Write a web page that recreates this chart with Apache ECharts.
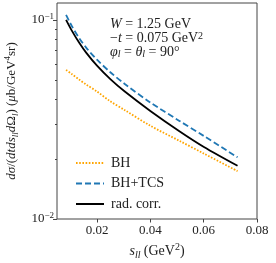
<!DOCTYPE html>
<html><head><meta charset="utf-8">
<script src="https://cdn.jsdelivr.net/npm/echarts@6/dist/echarts.min.js"></script>
<style>html,body{margin:0;padding:0;background:#fff}#c{width:276px;height:263px}</style>
</head><body><div id="c"></div>
<script>
const sll     = [0.0084, 0.0105, 0.0134, 0.016, 0.02, 0.025, 0.0303, 0.04, 0.0509, 0.0601, 0.0727];
const bh      = [0.0561, 0.0535, 0.0501, 0.0473, 0.0437, 0.0390, 0.0353, 0.0294, 0.0247, 0.0213, 0.0174];
const bhTcs   = [0.1059, 0.0934, 0.0807, 0.0724, 0.0631, 0.0546, 0.0478, 0.0385, 0.0311, 0.0261, 0.0204];
const radCorr = [0.1000, 0.0886, 0.0765, 0.0683, 0.0589, 0.0504, 0.0438, 0.0349, 0.0276, 0.0230, 0.0185];
const seriesNames = ['BH', 'BH+TCS', 'rad. corr.'];
const xTicks = [0.02, 0.04, 0.06, 0.08];
const yMajorExp = [-2, -1];
const yMinorVals = [0.02, 0.03, 0.04, 0.05, 0.06, 0.07, 0.08, 0.09];

const FONT = 'Liberation Serif';
const TXT = '#222';
const yMin = 0.01, yMax = 0.1216;
const pair = a => sll.map((s, i) => [s, a[i]]);

const richAxis = {
  i:   {fontFamily: FONT, fontStyle: 'italic', fontSize: 14, color: TXT, lineHeight: 18},
  r:   {fontFamily: FONT, fontSize: 14, color: TXT, lineHeight: 18},
  sub: {fontFamily: FONT, fontStyle: 'italic', fontSize: 10, color: TXT, verticalAlign: 'bottom', lineHeight: 10},
  sup: {fontFamily: FONT, fontSize: 10, color: TXT, verticalAlign: 'top', lineHeight: 10}
};
const richY = {
  i:   {fontFamily: FONT, fontStyle: 'italic', fontSize: 13, color: TXT, lineHeight: 17},
  r:   {fontFamily: FONT, fontSize: 13, color: TXT, lineHeight: 17},
  sub: {fontFamily: FONT, fontStyle: 'italic', fontSize: 9, color: TXT, verticalAlign: 'bottom', lineHeight: 9},
  sup: {fontFamily: FONT, fontSize: 9, color: TXT, verticalAlign: 'top', lineHeight: 9}
};
const richG = {
  i:   {fontFamily: FONT, fontStyle: 'italic', fontSize: 14, fill: TXT, lineHeight: 14},
  r:   {fontFamily: FONT, fontSize: 14, fill: TXT, lineHeight: 14},
  sub: {fontFamily: FONT, fontStyle: 'italic', fontSize: 10, fill: TXT, verticalAlign: 'bottom', lineHeight: 8},
  sup: {fontFamily: FONT, fontSize: 10, fill: TXT, verticalAlign: 'top', lineHeight: 8}
};

const hiddenAxisBits = {axisLine: {show: false}, splitLine: {show: false}};

const chart = echarts.init(document.getElementById('c'), null, {renderer: 'canvas'});
chart.setOption({
  animation: false,
  backgroundColor: '#fff',
  grid: {left: 57, right: 19, top: 3, bottom: 44, show: true, borderColor: '#444', borderWidth: 1,
         backgroundColor: 'transparent', containLabel: false, outerBoundsMode: 'none'},
  xAxis: {
    type: 'value', min: 0.005, max: 0.08, ...hiddenAxisBits,
    axisTick: {customValues: xTicks, length: 3.5, lineStyle: {color: '#444'}},
    axisLabel: {customValues: xTicks, formatter: v => v.toFixed(2), fontFamily: FONT, fontSize: 13, color: TXT, margin: 5},
    name: '{i|s}{sub|ll} {r|(GeV}{sup|2}{r|)}',
    nameLocation: 'middle', nameGap: 21,
    nameTextStyle: {rich: richAxis}
  },
  yAxis: [
    {type: 'log', min: yMin, max: yMax, show: true, ...hiddenAxisBits,
     axisTick: {show: false}, axisLabel: {show: false}},
    {type: 'value', min: Math.log10(yMin), max: Math.log10(yMax), position: 'left', ...hiddenAxisBits,
     axisTick: {customValues: yMajorExp, length: 4, lineStyle: {color: '#444'}},
     axisLabel: {customValues: yMajorExp, margin: 3,
       formatter: v => '{b|10}{s|' + (Math.round(v) < 0 ? '\u2212' : '') + Math.abs(Math.round(v)) + '}',
       rich: {b: {fontFamily: FONT, fontSize: 13, color: TXT, lineHeight: 16},
              s: {fontFamily: FONT, fontSize: 9, color: TXT, verticalAlign: 'top', lineHeight: 10}}},
     name: '{i|d\u03c3}{r|/(}{i|dtds}{sub|ll}{i|d}{r|\u03a9}{sub|l}{r|) (}{i|\u03bc}{r|b/GeV}{sup|4}{r|sr)}',
     nameLocation: 'middle', nameGap: 36, nameRotate: 90,
     nameTextStyle: {rich: richY}},
    {type: 'value', min: Math.log10(yMin), max: Math.log10(yMax), position: 'left', ...hiddenAxisBits,
     axisTick: {customValues: yMinorVals.map(Math.log10), length: 2, lineStyle: {color: '#444'}},
     axisLabel: {show: false}}
  ],
  legend: {
    orient: 'vertical', left: 70, top: 151, itemWidth: 28, itemHeight: 14, itemGap: 6.5,
    data: seriesNames, itemStyle: {opacity: 0},
    textStyle: {fontFamily: FONT, fontSize: 14, color: TXT, padding: [0, 0, 0, 2]}
  },
  graphic: [{
    type: 'text', left: 110, top: 17,
    style: {
      text: '{i|W}{r| = 1.25 GeV}\n{r|\u2212}{i|t}{r| = 0.075 GeV}{sup|2}\n{i|\u03c6}{sub|l}{r| = }{i|\u03b8}{sub|l}{r| = 90\u00b0}',
      rich: richG, fontFamily: FONT, fontSize: 14, fill: TXT
    }
  }],
  series: [
    {name: seriesNames[0], type: 'line', data: pair(bh), yAxisIndex: 0, symbol: 'none', smooth: 0.3,
     color: '#ffa500', lineStyle: {color: '#ffa500', width: 1.8, type: [1.6, 1.6]}},
    {name: seriesNames[1], type: 'line', data: pair(bhTcs), yAxisIndex: 0, symbol: 'none', smooth: 0.3,
     color: '#1f77b4', lineStyle: {color: '#1f77b4', width: 1.8, type: [6, 3]}},
    {name: seriesNames[2], type: 'line', data: pair(radCorr), yAxisIndex: 0, symbol: 'none', smooth: 0.3,
     color: '#000', lineStyle: {color: '#000', width: 1.8}}
  ]
});
</script>
</body></html>
